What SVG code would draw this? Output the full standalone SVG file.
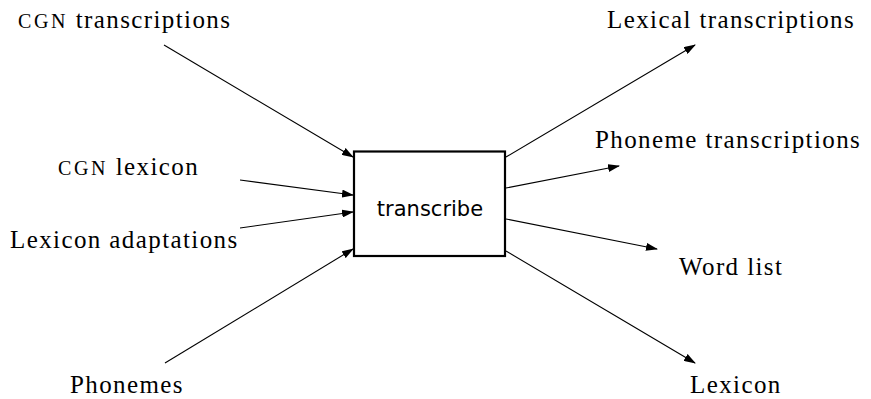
<svg xmlns="http://www.w3.org/2000/svg" width="871" height="399" viewBox="0 0 871 399">
  <style>
    .lbl { font-family: "Liberation Serif", "DejaVu Serif", serif; font-size: 25px; letter-spacing: 1.4px; fill: #000; }
    .sc { font-size: 20px; letter-spacing: 2.6px; }
    .box { fill: #fff; stroke: #000; stroke-width: 2.2; }
    .name { font-family: "DejaVu Sans", "Liberation Sans", sans-serif; font-size: 21px; fill: #000; text-anchor: middle; }
    .edge { stroke: #000; stroke-width: 1.1; fill: none; marker-end: url(#arrow); }
  </style>
  <defs>
    <marker id="arrow" viewBox="0 0 12 8" refX="11" refY="4" markerWidth="12" markerHeight="8" markerUnits="userSpaceOnUse" orient="auto">
      <path d="M0,0 L12,4 L0,8 Z" fill="#000"/>
    </marker>
  </defs>

  <!-- connectors -->
  <g id="connectors">
    <line class="edge" x1="164" y1="45" x2="353" y2="157"/>
    <line class="edge" x1="240" y1="180" x2="353" y2="195"/>
    <line class="edge" x1="240" y1="228" x2="353" y2="212"/>
    <line class="edge" x1="165" y1="363" x2="353" y2="249"/>
    <line class="edge" x1="506" y1="157" x2="695" y2="45"/>
    <line class="edge" x1="506" y1="188" x2="619" y2="166"/>
    <line class="edge" x1="506" y1="219" x2="657" y2="249"/>
    <line class="edge" x1="506" y1="251" x2="695" y2="363"/>
  </g>

  <!-- process -->
  <g id="transcribe">
    <rect class="box" x="354" y="151.5" width="151" height="104.5"/>
    <text class="name" x="430" y="216">transcribe</text>
  </g>

  <!-- inputs -->
  <g id="cgn-transcriptions">
    <text class="lbl" x="18" y="28"><tspan class="sc">CGN</tspan> transcriptions</text>
  </g>
  <g id="cgn-lexicon">
    <text class="lbl" x="58" y="175"><tspan class="sc">CGN</tspan> lexicon</text>
  </g>
  <g id="lexicon-adaptations">
    <text class="lbl" x="10" y="248">Lexicon adaptations</text>
  </g>
  <g id="phonemes">
    <text class="lbl" x="70" y="393">Phonemes</text>
  </g>

  <!-- outputs -->
  <g id="lexical-transcriptions">
    <text class="lbl" x="607" y="28">Lexical transcriptions</text>
  </g>
  <g id="phoneme-transcriptions">
    <text class="lbl" x="595" y="148">Phoneme transcriptions</text>
  </g>
  <g id="word-list">
    <text class="lbl" x="679" y="275">Word list</text>
  </g>
  <g id="lexicon">
    <text class="lbl" x="690" y="393">Lexicon</text>
  </g>
</svg>
